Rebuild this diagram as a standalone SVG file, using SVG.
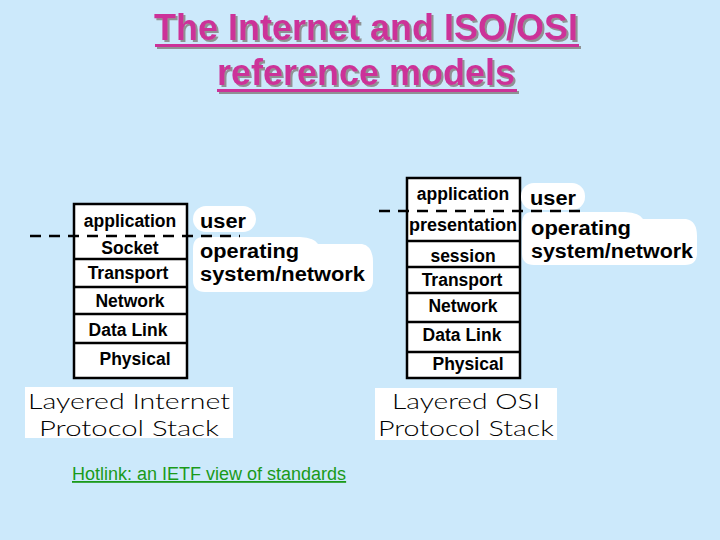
<svg xmlns="http://www.w3.org/2000/svg" width="720" height="540" viewBox="0 0 720 540">
<defs>
<filter id="sh" x="-5%" y="-20%" width="110%" height="150%">
<feDropShadow dx="2" dy="2" stdDeviation="0.6" flood-color="#888" flood-opacity="0.9"/>
</filter>
</defs>
<style>
.title{font-family:"Liberation Sans",Arial,sans-serif;font-size:36px;font-weight:bold;fill:#cc3399;text-anchor:middle}
.cell{fill:#fff;stroke:#000;stroke-width:2.5}
.lay{font-family:"Liberation Sans",Arial,sans-serif;font-size:17.5px;font-weight:bold;fill:#000;text-anchor:middle}
.cl{fill:#fff}
.ct{font-family:"Liberation Sans",Arial,sans-serif;font-size:20px;font-weight:bold;fill:#000}
.cap{font-family:Lato,"Liberation Sans",sans-serif;font-weight:300;font-size:22px;fill:#000;text-anchor:middle}
.dash{stroke:#000;stroke-width:2.5;stroke-dasharray:11 8;fill:none}
.link{font-family:"Liberation Sans",Arial,sans-serif;font-size:18px;fill:#1a9a1a;text-decoration:underline}
</style>
<rect width="720" height="540" fill="#cce9fb"/>
<g id="title" filter="url(#sh)">
<text class="title" x="366" y="40">The Internet and ISO/OSI</text>
<rect x="155" y="44" width="424" height="3" fill="#cc3399"/>
<text class="title" x="366" y="85">reference models</text>
<rect x="217" y="89" width="300" height="3" fill="#cc3399"/>
</g>
<g id="internet-stack">
<rect class="cell" x="74" y="204" width="113" height="174"/>
<line x1="74" y1="259" x2="187" y2="259" stroke="#000" stroke-width="2.5"/>
<line x1="74" y1="287" x2="187" y2="287" stroke="#000" stroke-width="2.5"/>
<line x1="74" y1="314" x2="187" y2="314" stroke="#000" stroke-width="2.5"/>
<line x1="74" y1="343" x2="187" y2="343" stroke="#000" stroke-width="2.5"/>
<text class="lay" x="130" y="227">application</text>
<text class="lay" x="130" y="254">Socket</text>
<text class="lay" x="128" y="279">Transport</text>
<text class="lay" x="130" y="307">Network</text>
<text class="lay" x="128" y="336">Data Link</text>
<text class="lay" x="135" y="365">Physical</text>
</g>
<g id="internet-user">
<rect class="cl" x="193" y="206" width="63" height="26" rx="13"/>
<text class="ct" x="200" y="228" textLength="46" lengthAdjust="spacingAndGlyphs">user</text>
</g>
<g id="internet-os">
<path class="cl" d="M203 237 H300 Q315 238 318 244 H362 Q373 246 373 262 V280 Q373 292 360 292 H205 Q193 292 193 280 V249 Q193 237 203 237 Z"/>
<text class="ct" x="200" y="258" textLength="99" lengthAdjust="spacingAndGlyphs">operating</text>
<text class="ct" x="200" y="281" textLength="165" lengthAdjust="spacingAndGlyphs">system/network</text>
</g>
<g id="internet-caption">
<rect x="25" y="387" width="208" height="51" fill="#fff"/>
<text class="cap" x="129" y="409" textLength="202" lengthAdjust="spacingAndGlyphs">Layered Internet</text>
<text class="cap" x="129" y="436" textLength="180" lengthAdjust="spacingAndGlyphs">Protocol Stack</text>
</g>
<g id="osi-stack">
<rect class="cell" x="407" y="178" width="113" height="200"/>
<line x1="407" y1="241" x2="520" y2="241" stroke="#000" stroke-width="2.5"/>
<line x1="407" y1="267" x2="520" y2="267" stroke="#000" stroke-width="2.5"/>
<line x1="407" y1="293" x2="520" y2="293" stroke="#000" stroke-width="2.5"/>
<line x1="407" y1="322" x2="520" y2="322" stroke="#000" stroke-width="2.5"/>
<line x1="407" y1="352" x2="520" y2="352" stroke="#000" stroke-width="2.5"/>
<text class="lay" x="463" y="200">application</text>
<text class="lay" x="463" y="231" textLength="108" lengthAdjust="spacingAndGlyphs">presentation</text>
<text class="lay" x="463" y="262">session</text>
<text class="lay" x="462" y="286">Transport</text>
<text class="lay" x="463" y="312">Network</text>
<text class="lay" x="462" y="341">Data Link</text>
<text class="lay" x="468" y="370">Physical</text>
</g>
<g id="osi-user">
<rect class="cl" x="521" y="183" width="64" height="27" rx="13"/>
<text class="ct" x="530" y="205" textLength="46" lengthAdjust="spacingAndGlyphs">user</text>
</g>
<g id="osi-os">
<path class="cl" d="M532 212 H625 Q640 213 643 219 H686 Q697 221 697 236 V253 Q697 265 685 265 H534 Q522 265 522 253 V224 Q522 212 532 212 Z"/>
<text class="ct" x="531" y="235" textLength="100" lengthAdjust="spacingAndGlyphs">operating</text>
<text class="ct" x="531" y="258" textLength="162" lengthAdjust="spacingAndGlyphs">system/network</text>
</g>
<g id="osi-caption">
<rect x="375" y="388" width="182" height="52" fill="#fff"/>
<text class="cap" x="466" y="409" textLength="148" lengthAdjust="spacingAndGlyphs">Layered OSI</text>
<text class="cap" x="466" y="436" textLength="176" lengthAdjust="spacingAndGlyphs">Protocol Stack</text>
</g>
<g id="connectors">
<line class="dash" x1="30" y1="236" x2="240" y2="236"/>
<line class="dash" x1="379" y1="211" x2="587" y2="211"/>
</g>
<g id="hotlink">
<text class="link" x="72" y="480">Hotlink: an IETF view of standards</text>
</g>
</svg>
